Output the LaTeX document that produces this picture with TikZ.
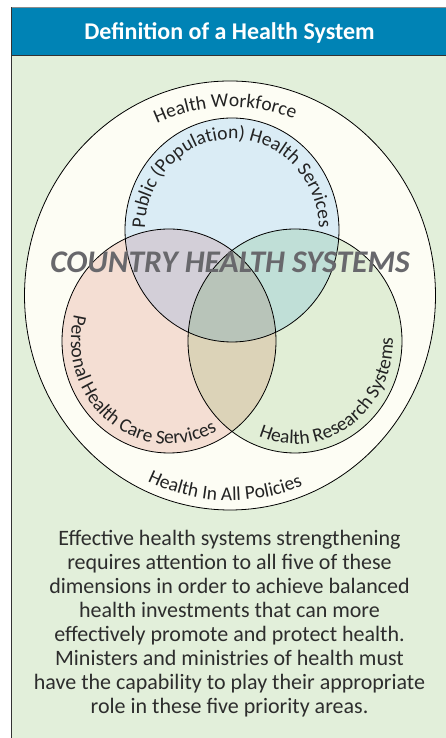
\documentclass[tikz,border=0pt]{standalone}
\usepackage{fontspec}
\setmainfont{Carlito}
\usetikzlibrary{decorations.text}

% panel and ring colours
\definecolor{headblue}{RGB}{0,131,181}
\definecolor{panelgreen}{RGB}{226,239,218}
\definecolor{cream}{RGB}{253,253,244}
\definecolor{pubblue}{RGB}{218,236,245}
\definecolor{perspink}{RGB}{244,222,211}
\definecolor{resgreen}{RGB}{225,238,214}
\definecolor{pubpers}{RGB}{211,207,216}
\definecolor{pubres}{RGB}{192,223,215}
\definecolor{persres}{RGB}{220,211,184}
\definecolor{allthree}{RGB}{184,196,185}
\definecolor{bigtext}{RGB}{104,104,108}
\definecolor{labeltext}{RGB}{35,35,35}
\definecolor{bodytext}{RGB}{45,45,45}

\newcommand\ringfont{\fontsize{19.5}{23}\selectfont}

\begin{document}
\begin{tikzpicture}[x=1pt,y=1pt,
  ring/.style={draw=black, line width=0.8pt},
  venn/.style={x radius=107, y radius=112},
  curvelabel/.style={decorate, decoration={text along path, text align=center, text color=labeltext}},
  headtitle/.style={text=white, font=\fontsize{24}{28}\selectfont\bfseries},
  bigtitle/.style={text=bigtext, font=\fontsize{31.5}{36}\selectfont\bfseries\itshape},
  blurb/.style={text=bodytext, align=center, font=\fontsize{22}{24}\selectfont}]
\useasboundingbox (0,0) rectangle (446,738);

% frame and header bar
\fill[panelgreen] (11,-5) rectangle (450,682);
\fill[headblue] (11,682) rectangle (450,730.5);
\draw[black!45, line width=0.8pt] (11,730.5) -- (450,730.5);
\draw[black!80, line width=1pt] (450,682) -- (11,682) -- (11,-5);
\draw[black!80, line width=1pt] (11,682) -- (11,730.5);
\node[headtitle] (title) at (229.5,705) {Definition of a Health System};

% centres
\coordinate (outer) at (230,442.5);
\coordinate (pub) at (232,508);
\coordinate (pers) at (169,397);
\coordinate (res) at (295,397);

% outer ring
\filldraw[ring, fill=cream] (outer) ellipse [x radius=205.5, y radius=214.5];

% the three sets
\fill[pubblue] (pub) ellipse [venn];
\fill[perspink] (pers) ellipse [venn];
\fill[resgreen] (res) ellipse [venn];
\begin{scope}
  \clip (pub) ellipse [venn];
  \fill[pubpers] (pers) ellipse [venn];
  \fill[pubres] (res) ellipse [venn];
\end{scope}
\begin{scope}
  \clip (pers) ellipse [venn];
  \fill[persres] (res) ellipse [venn];
  \clip (res) ellipse [venn];
  \fill[allthree] (pub) ellipse [venn];
\end{scope}
\draw[ring] (pub) ellipse [venn];
\draw[ring] (pers) ellipse [venn];
\draw[ring] (res) ellipse [venn];

% curved labels
\path[curvelabel, decoration={text={|\ringfont|Health Workforce}}]
  ([shift={(outer)}]151.5:180.5 and 188.5) arc [start angle=151.5, end angle=31.5, x radius=180.5, y radius=188.5];
\path[curvelabel, decoration={text={|\ringfont|Health In All Policies}}]
  ([shift={(outer)}]218.5:196 and 205) arc [start angle=218.5, end angle=318.5, x radius=196, y radius=205];
\path[curvelabel, decoration={text={|\ringfont|Public (Population) Health Services}}]
  ([shift={(pub)}]190:87 and 91) arc [start angle=190, end angle=-10, x radius=87, y radius=91];
\path[curvelabel, decoration={text={|\ringfont|Personal Health Care Services}}]
  ([shift={(pers)}]160:98 and 103) arc [start angle=160, end angle=305, x radius=98, y radius=103];
\path[curvelabel, decoration={text={|\ringfont|Health Research Systems}}]
  ([shift={(res)}]245:98 and 103) arc [start angle=245, end angle=365, x radius=98, y radius=103];

\node[bigtitle] (country) at (230,476) {COUNTRY HEALTH SYSTEMS};

\node[blurb] (note) at (229.5,114) {Effective health systems strengthening\\
  requires attention to all five of these\\
  dimensions in order to achieve balanced\\
  health investments that can more\\
  effectively promote and protect health.\\
  Ministers and ministries of health must\\
  have the capability to play their appropriate\\
  role in these five priority areas.};
\end{tikzpicture}
\end{document}
